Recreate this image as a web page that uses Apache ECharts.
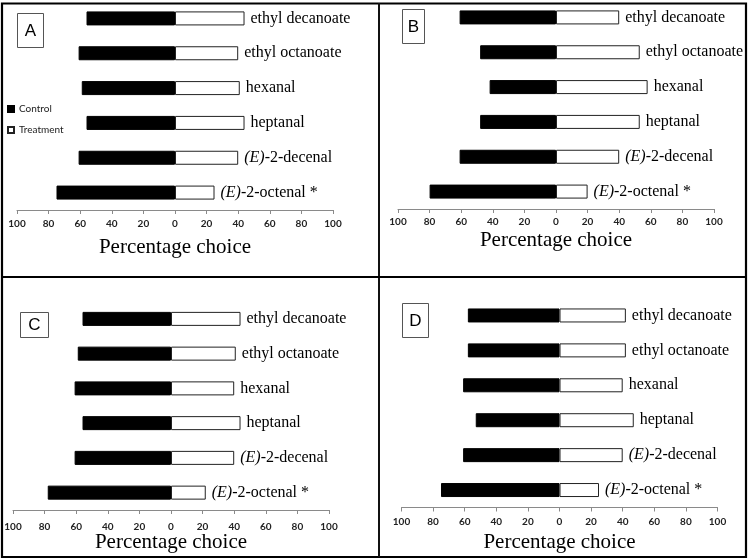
<!DOCTYPE html>
<html><head><meta charset="utf-8">
<script src="https://cdn.jsdelivr.net/npm/echarts@6/dist/echarts.min.js"></script>
<style>html,body{margin:0;padding:0;background:#fff}#c{width:750px;height:560px}</style>
</head><body><div id="c"></div>
<script>
// ---- data ----
const categories = ['ethyl decanoate', 'ethyl octanoate', 'hexanal', 'heptanal', '(E)-2-decenal', '(E)-2-octenal *'];
const controlA = [56, 61, 59, 56, 61, 75];
const treatmentA = [44, 40, 41, 44, 40, 25];
const controlB = [61, 48, 42, 48, 61, 80];
const treatmentB = [40, 53, 58, 53, 40, 20];
const controlC = [56, 59, 61, 56, 61, 78];
const treatmentC = [44, 41, 40, 44, 40, 22];
const controlD = [58, 58, 61, 53, 61, 75];
const treatmentD = [42, 42, 40, 47, 40, 25];
const panelLetters = ['A', 'B', 'C', 'D'];
const axisTitle = 'Percentage choice';
const legendNames = ['Control', 'Treatment'];

// ---- layout ----
const SERIF = '"Liberation Serif","Times New Roman",serif';
const SANS = 'Lato, "Liberation Sans", sans-serif';
const panels = [
  {letter: panelLetters[0], control: controlA, treatment: treatmentA, grid: {left: 17, top: 1, width: 316, height: 209}, margin: 8.5, nameGap: 27, box: [17, 13, 26, 34]},
  {letter: panelLetters[1], control: controlB, treatment: treatmentB, grid: {left: 398, top: 0, width: 316, height: 209}, margin: 8, nameGap: 21, box: [402, 9, 22, 34]},
  {letter: panelLetters[2], control: controlC, treatment: treatmentC, grid: {left: 13, top: 301.5, width: 316, height: 208.5}, margin: 11.5, nameGap: 22, box: [20, 312, 28, 25]},
  {letter: panelLetters[3], control: controlD, treatment: treatmentD, grid: {left: 401.5, top: 298, width: 316, height: 209.5}, margin: 9, nameGap: 24.5, box: [402, 303, 26, 34]}
];

const grids = [], xAxes = [], yAxes = [], series = [], graphics = [];
panels.forEach((p, i) => {
  grids.push(Object.assign({containLabel: false}, p.grid));
  xAxes.push({
    gridIndex: i, type: 'value', min: -100, max: 100, interval: 20,
    splitLine: {show: false},
    axisLine: {show: true, onZero: false, lineStyle: {color: '#8a8a8a', width: 1}},
    axisTick: {show: true, length: 4, lineStyle: {color: '#8a8a8a'}},
    axisLabel: {formatter: v => String(Math.abs(v)), fontSize: 10, fontWeight: 'bold', fontFamily: SANS, color: '#222', margin: p.margin, showMinLabel: true, showMaxLabel: true},
    name: axisTitle, nameLocation: 'middle', nameGap: p.nameGap,
    nameTextStyle: {fontFamily: SERIF, fontSize: 21, color: '#000'}
  });
  yAxes.push({gridIndex: i, type: 'category', data: categories, inverse: true, show: false});
  series.push({
    name: legendNames[0], type: 'bar', xAxisIndex: i, yAxisIndex: i, stack: 's' + i,
    barWidth: 14, data: p.control.map(v => -v),
    itemStyle: {color: '#000', borderColor: '#000', borderWidth: 1}
  });
  series.push({
    name: legendNames[1], type: 'bar', xAxisIndex: i, yAxisIndex: i, stack: 's' + i,
    barWidth: 14, data: p.treatment,
    itemStyle: {color: '#fff', borderColor: '#222', borderWidth: 1},
    label: {
      show: true, position: 'right', distance: 6,
      formatter: q => q.name.startsWith('(E)') ? '{i|(E)}{n|' + q.name.slice(3) + '}' : '{n|' + q.name + '}',
      rich: {
        i: {fontFamily: SERIF, fontStyle: 'italic', fontSize: 16, color: '#000'},
        n: {fontFamily: SERIF, fontSize: 16, color: '#000'}
      }
    }
  });
  const b = p.box;
  graphics.push({type: 'rect', shape: {x: b[0] + 0.5, y: b[1] + 0.5, width: b[2], height: b[3]}, style: {fill: '#fff', stroke: '#555', lineWidth: 1}, z: 10});
  graphics.push({type: 'text', x: b[0] + b[2] / 2 + 0.5, y: b[1] + b[3] / 2 + 1, style: {text: p.letter, fontSize: 17, fontFamily: '"Liberation Sans",Arial,sans-serif', fill: '#000', align: 'center', verticalAlign: 'middle'}, z: 11});
});

// frame and dividers
graphics.push({type: 'rect', shape: {x: 2, y: 3.5, width: 744, height: 553.5}, style: {fill: 'none', stroke: '#000', lineWidth: 2.2}, z: 20});
graphics.push({type: 'line', shape: {x1: 379, y1: 3, x2: 379, y2: 557}, style: {stroke: '#111', lineWidth: 2}, z: 20});
graphics.push({type: 'line', shape: {x1: 2, y1: 277, x2: 746, y2: 277}, style: {stroke: '#000', lineWidth: 2}, z: 20});

const chart = echarts.init(document.getElementById('c'), null, {renderer: 'canvas'});
chart.setOption({
  animation: false,
  backgroundColor: '#fff',
  grid: grids, xAxis: xAxes, yAxis: yAxes, series: series,
  legend: {
    data: legendNames, orient: 'vertical', left: 7, top: 103, padding: 0,
    itemWidth: 6, itemHeight: 6, itemGap: 9, icon: 'rect',
    textStyle: {fontSize: 10, fontFamily: SANS, color: '#222', lineHeight: 12}
  },
  graphic: graphics
});
</script></body></html>
